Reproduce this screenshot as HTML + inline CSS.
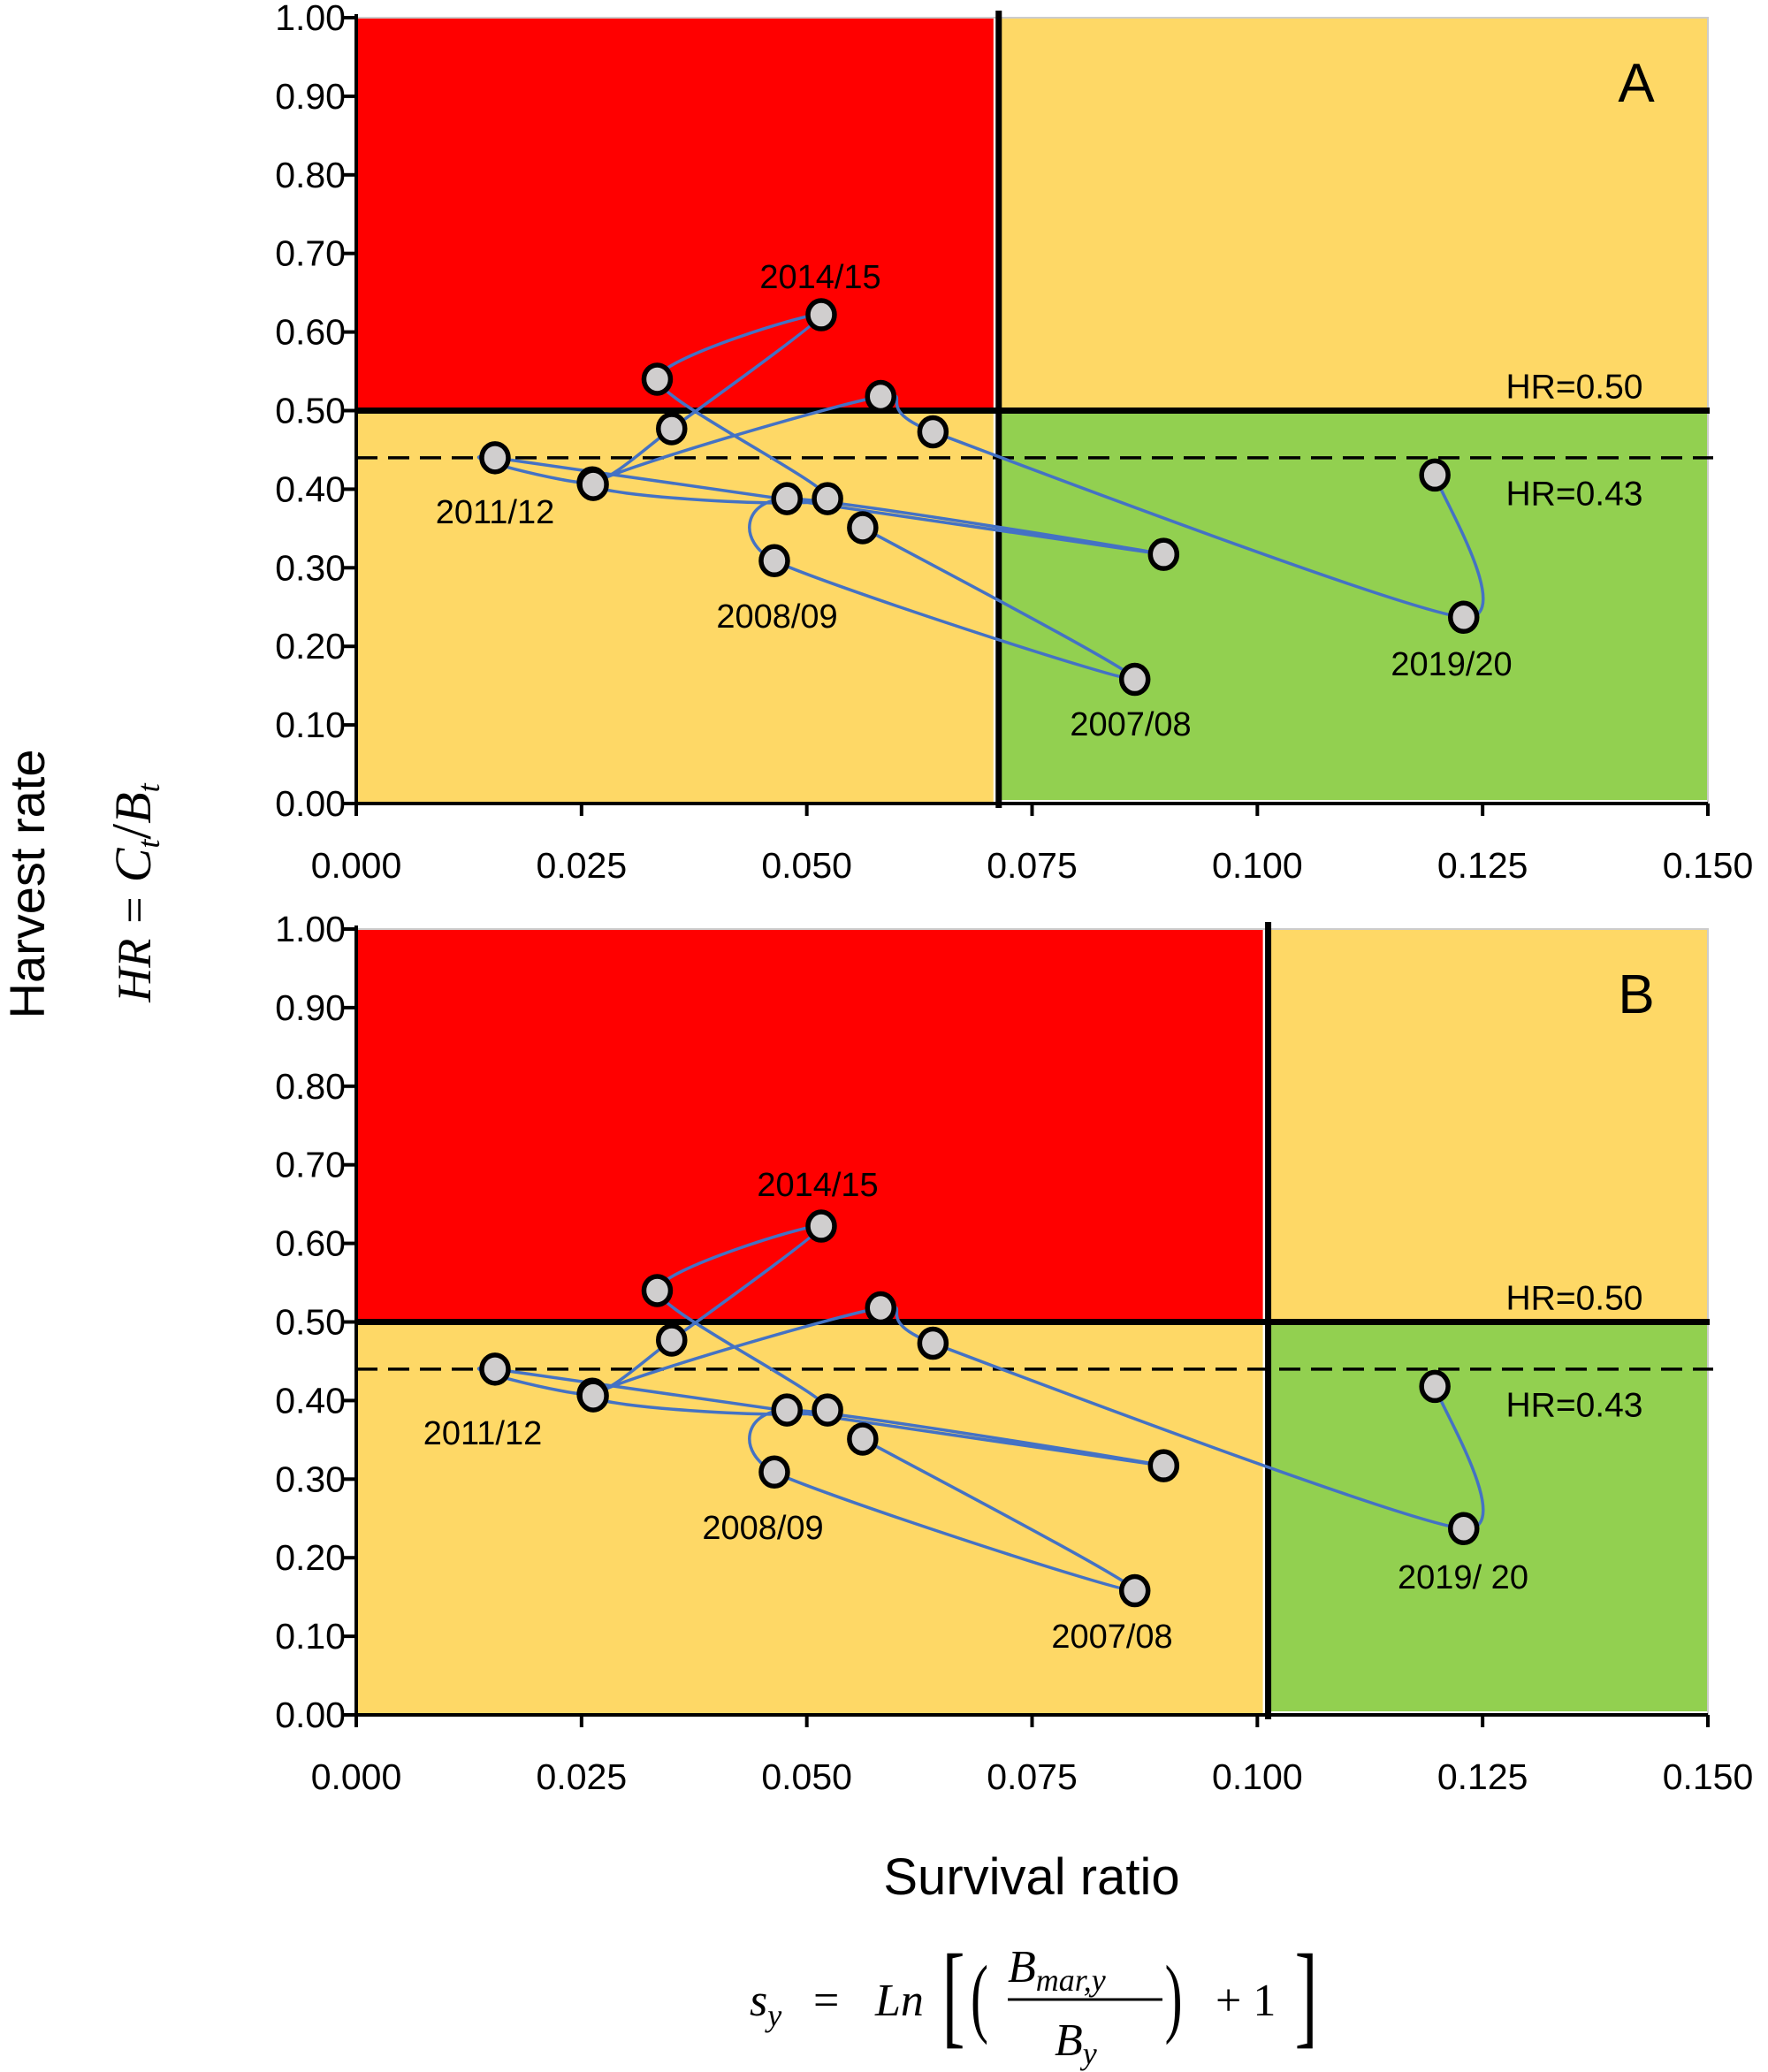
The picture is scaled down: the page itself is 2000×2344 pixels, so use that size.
<!DOCTYPE html>
<html><head><meta charset="utf-8"><style>
html,body{margin:0;padding:0;background:#fff}
svg{display:block}
.sans{font-family:"Liberation Sans",sans-serif}
.serif{font-family:"Liberation Serif",serif}
</style></head><body>
<svg id="chart" width="2000" height="2344" viewBox="0 0 2000 2344" xmlns="http://www.w3.org/2000/svg">
<text class="sans" x="50" y="1000" font-size="56" text-anchor="middle" transform="rotate(-90 50 1000)">Harvest rate</text>
<g transform="rotate(-90 150 1010)">
<text class="serif" x="150" y="1030" font-size="54" text-anchor="middle" font-style="italic">HR = <tspan font-size="58">C</tspan><tspan font-size="36" dy="10">t</tspan><tspan dy="-10" font-style="normal" font-size="64">/</tspan><tspan font-size="58">B</tspan><tspan font-size="36" dy="10">t</tspan></text>
</g>
<text class="sans" x="1167" y="2143" font-size="58" text-anchor="middle">Survival ratio</text>
<g font-size="52">
<text class="serif" x="848" y="2280" font-style="italic">s<tspan font-size="36" dy="12">y</tspan></text>
<text class="serif" x="920" y="2280">=</text>
<text class="serif" x="990" y="2280" font-style="italic">Ln</text>
<text class="serif" x="1066" y="2300" font-size="130" transform="scale(0.6,1) translate(710,0)">[</text>
<text class="serif" x="1098" y="2292" font-size="100" transform="scale(0.6,1) translate(732,0)">(</text>
<text class="serif" x="1140" y="2242" font-style="italic">B<tspan font-size="36" dy="10">mar,y</tspan></text>
<line x1="1140" y1="2262" x2="1315" y2="2262" stroke="#000" stroke-width="3"/>
<text class="serif" x="1193" y="2325" font-style="italic">B<tspan font-size="36" dy="10">y</tspan></text>
<text class="serif" x="1318" y="2292" font-size="100" transform="scale(0.6,1) translate(878,0)">)</text>
<text class="serif" x="1375" y="2280">+ 1</text>
<text class="serif" x="1465" y="2300" font-size="130" transform="scale(0.6,1) translate(976,0)">]</text>
</g>
</svg>
<script>
const xTicks = [0, 0.025, 0.05, 0.075, 0.1, 0.125, 0.15];
const xTickLabels = ["0.000","0.025","0.050","0.075","0.100","0.125","0.150"];
const yTicks = [0,0.1,0.2,0.3,0.4,0.5,0.6,0.7,0.8,0.9,1.0];
const yTickLabels = ["0.00","0.10","0.20","0.30","0.40","0.50","0.60","0.70","0.80","0.90","1.00"];
const survival = [0.0562,0.0864,0.0464,0.0478,0.0896,0.0154,0.0262,0.0350,0.0516,0.0334,0.0523,0.0263,0.0582,0.0640,0.1229,0.1197];
const harvest  = [0.351,0.158,0.309,0.388,0.317,0.440,0.408,0.477,0.622,0.540,0.388,0.406,0.518,0.473,0.237,0.418];
const pointLabels = ["","2007/08","2008/09","","","2011/12","","","2014/15","","","","","","2019/20",""];
const panelNames = ["A","B"];
const survivalLimits = [0.0713, 0.1012];
const hrLimits = [0.50, 0.44];
const hrLabels = ["HR=0.50","HR=0.43"];

const NS="http://www.w3.org/2000/svg";
const svg=document.getElementById('chart');
function mk(tag,attrs,parent){const e=document.createElementNS(NS,tag);for(const k in attrs)e.setAttribute(k,attrs[k]);(parent||svg).appendChild(e);return e;}

const panels=[{top:20,bottom:909},{top:1051,bottom:1940}];
const X0=403,X1=1932;
const labelPos=[
 {"1":[1279,819],"2":[879,697],"5":[560,579],"8":[928,313],"14":[1642,751]},
 {"1":[1258,1851],"2":[863,1728],"5":[546,1621],"8":[925,1340],"14":[1655,1784]}];
const labelText=[{},{"14":"2019/ 20"}];

panels.forEach((p,pi)=>{
  const xs=v=>X0+v/0.15*(X1-X0);
  const ys=v=>p.bottom-v*(p.bottom-p.top);
  const g=mk('g',{'class':'sans'});
  
  
  const lx=xs(survivalLimits[pi]);
  const z1=mk('rect',{x:X0,y:p.top,width:lx-X0-6,height:ys(0)-p.top,fill:'#FED866'},g);
  
  const z2=mk('rect',{x:lx,y:p.top,width:X1-lx,height:ys(hrLimits[0])-p.top,fill:'#FED866'},g);
  
  const z3=mk('rect',{x:X0,y:p.top,width:lx-X0-6,height:ys(hrLimits[0])-p.top,fill:'#FF0000'},g);
  
  const z4=mk('rect',{x:lx,y:ys(hrLimits[0]),width:X1-lx,height:ys(0)-ys(hrLimits[0])-4,fill:'#92D050'},g);
  
  mk('rect',{x:X0,y:p.top,width:X1-X0,height:p.bottom-p.top,fill:'none',stroke:'#ccc','stroke-width':2},g);
  const h1=mk('line',{x1:X0,x2:X1+2,y1:ys(hrLimits[0]),y2:ys(hrLimits[0]),stroke:'#000','stroke-width':7},g);
  
  const h2=mk('line',{x1:X0,x2:X1+6,y1:ys(hrLimits[1]),y2:ys(hrLimits[1]),stroke:'#000','stroke-width':3.5,'stroke-dasharray':'24 12'},g);
  
  const v1=mk('line',{x1:lx,x2:lx,y1:p.top-8,y2:p.bottom+5,stroke:'#000','stroke-width':7},g);
  
  mk('line',{x1:X0,x2:X0,y1:p.top-4,y2:p.bottom,stroke:'#000','stroke-width':4},g);
  mk('line',{x1:X0,x2:X1,y1:p.bottom,y2:p.bottom,stroke:'#000','stroke-width':4},g);
  yTicks.forEach((t,i)=>{
    mk('line',{x1:X0-14,x2:X0,y1:ys(t),y2:ys(t),stroke:'#000','stroke-width':4},g);
    const tx=mk('text',{x:391,y:ys(t)+14,'font-size':41,'text-anchor':'end'},g);tx.textContent=yTickLabels[i];
    
  });
  xTicks.forEach((t,i)=>{
    mk('line',{x1:xs(t),x2:xs(t),y1:p.bottom,y2:p.bottom+14,stroke:'#000','stroke-width':4},g);
    const tx=mk('text',{x:xs(t),y:p.bottom+84,'font-size':41,'text-anchor':'middle'},g);tx.textContent=xTickLabels[i];
    
  });
  const pl=mk('text',{x:1851,y:p.top+95,'font-size':62,'text-anchor':'middle'},g);pl.textContent=panelNames[pi];
  
  hrLabels.forEach((s,i)=>{
    const t=mk('text',{x:1781,y:ys(hrLimits[0])+(i===0?-14:107),'font-size':39,'text-anchor':'middle'},g);t.textContent=s;
    
  });
  const P=survival.map((v,i)=>[xs(v),ys(harvest[i])]);
  let d='M'+P[0][0]+','+P[0][1];
  for(let i=0;i<P.length-1;i++){
    const p0=P[Math.max(i-1,0)],p1=P[i],p2=P[i+1],p3=P[Math.min(i+2,P.length-1)];
    const t=1/9;
    const c1=[p1[0]+(p2[0]-p0[0])*t,p1[1]+(p2[1]-p0[1])*t];
    const c2=[p2[0]-(p3[0]-p1[0])*t,p2[1]-(p3[1]-p1[1])*t];
    d+=' C'+c1[0]+','+c1[1]+' '+c2[0]+','+c2[1]+' '+p2[0]+','+p2[1];
  }
  const path=mk('path',{d:d,fill:'none',stroke:'#4472C4','stroke-width':3.5},g);
  
  P.forEach((q,i)=>{
    const c=mk('ellipse',{cx:q[0],cy:q[1],rx:15,ry:16,fill:'#D0CECE',stroke:'#000','stroke-width':5.5},g);
    
  });
  pointLabels.forEach((s,i)=>{
    if(!s)return;
    const pos=labelPos[pi][i];
    const t=mk('text',{x:pos[0],y:pos[1]+13,'font-size':38,'text-anchor':'middle'},g);
    t.textContent=labelText[pi][i]||s;
    
  });
});
</script>
</body></html>
